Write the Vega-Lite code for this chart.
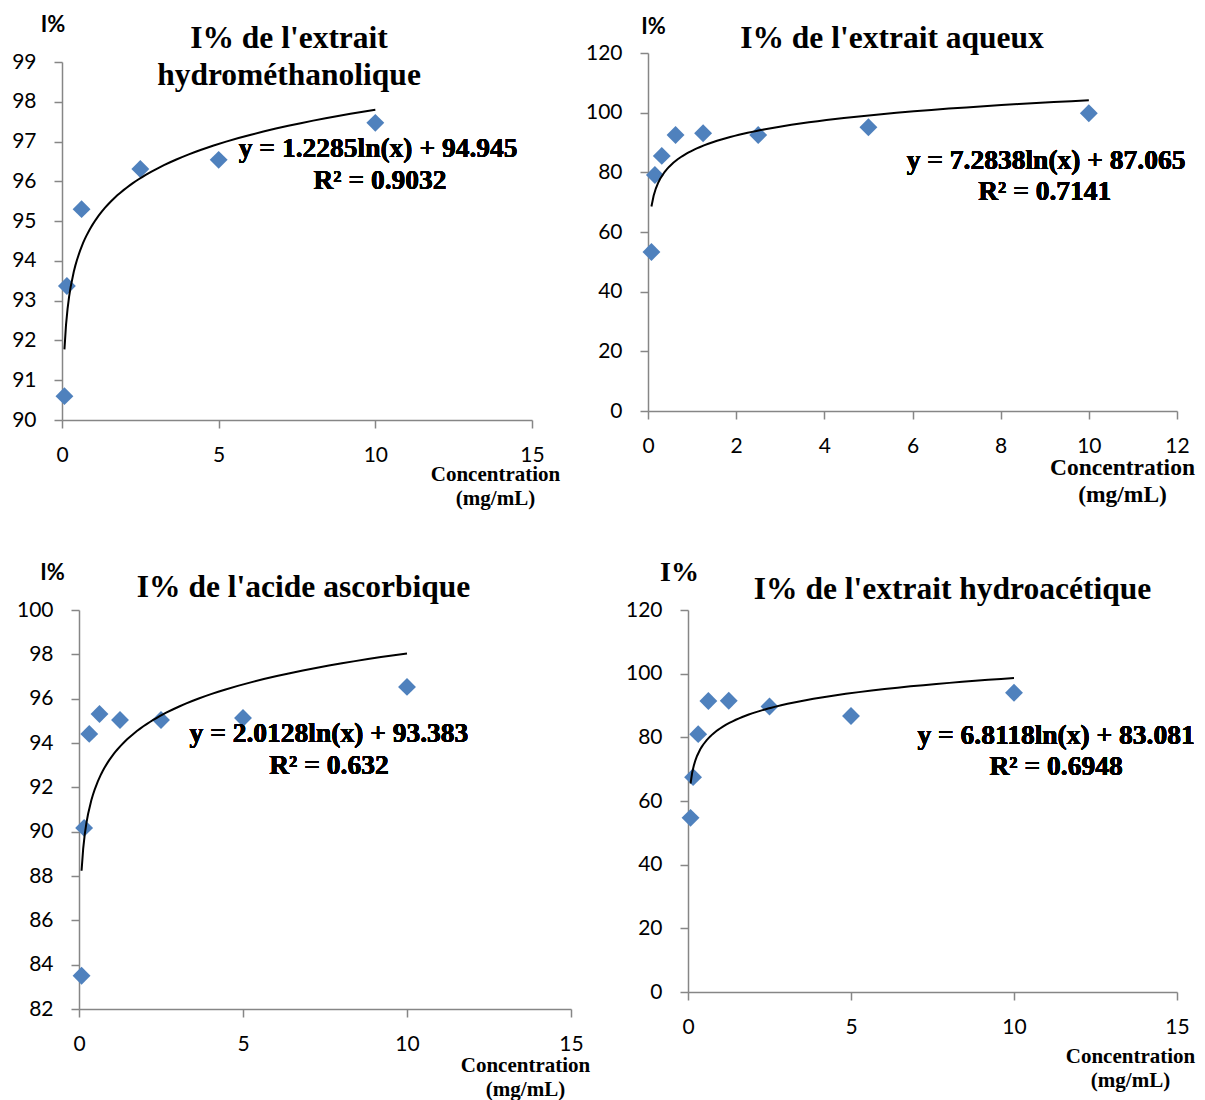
{
  "$schema": "https://vega.github.io/schema/vega-lite/v6.json",
  "background": "white",
  "padding": {"left": 11, "top": 13, "right": 5, "bottom": 5},
  "columns": 2,
  "bounds": "flush",
  "spacing": {"row": 190, "column": 77},
  "config": {
    "view": {"stroke": null},
    "axis": {"domainColor": "#868686", "tickColor": "#868686", "domainWidth": 1.5, "tickWidth": 1.5, "tickSize": 8, "grid": false, "labelFont": "Lato", "labelFontSize": 21, "labelColor": "black", "labelFlush": false, "labelOverlap": false, "labelPadding": 16, "titleColor": "black"},
    "axisY": {"labelPadding": 18},
    "title": {"font": "Liberation Serif", "fontSize": 31.5, "fontWeight": "bold", "color": "black", "frame": "group", "anchor": "middle", "lineHeight": 37, "offset": 0},
    "text": {"font": "Liberation Serif", "fontSize": 27.5, "fontWeight": "bold", "color": "black", "align": "center", "baseline": "middle"},
    "point": {"shape": "diamond", "filled": true, "size": 320, "color": "#4F81BD", "opacity": 1}
  },
  "concat": [
    {
      "width": 470, "height": 367,
      "title": {"text": ["I% de l'extrait", "hydrométhanolique"], "dx": -8, "dy": 82},
      "data": {"values": [
        {"x": 0.078, "y": 90.6}, {"x": 0.156, "y": 93.37}, {"x": 0.625, "y": 95.3},
        {"x": 2.5, "y": 96.31}, {"x": 5, "y": 96.54}, {"x": 10, "y": 97.47}
      ]},
      "encoding": {
        "x": {"field": "x", "type": "quantitative", "scale": {"domain": [0, 15], "nice": false},
          "axis": {"values": [0, 5, 10, 15], "title": ["Concentration", "(mg/mL)"], "titleX": 433, "titleY": 43, "titleAlign": "center", "titleBaseline": "top", "titleFont": "Liberation Serif", "titleFontWeight": "bold", "titleFontSize": 21, "titleLineHeight": 24}},
        "y": {"field": "y", "type": "quantitative", "scale": {"domain": [90, 99], "nice": false, "zero": false, "range": [367, 9]},
          "axis": {"values": [90, 91, 92, 93, 94, 95, 96, 97, 98, 99], "title": "I%", "titleAngle": 0, "titleX": -9.5, "titleY": -28.5, "titleAlign": "center", "titleBaseline": "middle", "titleFont": "Lato", "titleFontWeight": "bold", "titleFontSize": 22}}
      },
      "layer": [
        {"mark": "point"},
        {"transform": [{"regression": "y", "on": "x", "method": "log", "extent": [0.078, 10]}], "mark": {"type": "line", "color": "black", "strokeWidth": 2}},
        {"mark": "text", "encoding": {"x": {"datum": 10.09}, "y": {"datum": 96.81}, "text": {"value": "y = 1.2285ln(x) + 94.945"}}},
        {"mark": "text", "encoding": {"x": {"datum": 10.15}, "y": {"datum": 96.01}, "text": {"value": "R² = 0.9032"}}}
      ]
    },
    {
      "width": 529, "height": 358,
      "title": {"text": "I% de l'extrait aqueux", "dx": -20.5, "dy": 43},
      "data": {"values": [
        {"x": 0.078, "y": 53.3}, {"x": 0.156, "y": 79.1}, {"x": 0.3125, "y": 85.5}, {"x": 0.625, "y": 92.5},
        {"x": 1.25, "y": 93.1}, {"x": 2.5, "y": 92.5}, {"x": 5, "y": 95.1}, {"x": 10, "y": 99.8}
      ]},
      "encoding": {
        "x": {"field": "x", "type": "quantitative", "scale": {"domain": [0, 12], "nice": false},
          "axis": {"values": [0, 2, 4, 6, 8, 10, 12], "title": ["Concentration", "(mg/mL)"], "titleX": 474, "titleY": 44, "titleAlign": "center", "titleBaseline": "top", "titleFont": "Liberation Serif", "titleFontWeight": "bold", "titleFontSize": 23.5, "titleLineHeight": 27}},
        "y": {"field": "y", "type": "quantitative", "scale": {"domain": [0, 120], "nice": false},
          "axis": {"values": [0, 20, 40, 60, 80, 100, 120], "title": "I%", "titleAngle": 0, "titleX": 5, "titleY": -27, "titleAlign": "center", "titleBaseline": "middle", "titleFont": "Lato", "titleFontWeight": "bold", "titleFontSize": 22}}
      },
      "layer": [
        {"mark": "point"},
        {"transform": [{"regression": "y", "on": "x", "method": "log", "extent": [0.078, 10]}], "mark": {"type": "line", "color": "black", "strokeWidth": 2}},
        {"mark": "text", "encoding": {"x": {"datum": 9.03}, "y": {"datum": 83.8}, "text": {"value": "y = 7.2838ln(x) + 87.065"}}},
        {"mark": "text", "encoding": {"x": {"datum": 9.0}, "y": {"datum": 73.4}, "text": {"value": "R² = 0.7141"}}}
      ]
    },
    {
      "width": 509, "height": 399,
      "title": {"text": "I% de l'acide ascorbique", "dx": -13, "dy": 46},
      "data": {"values": [
        {"x": 0.078, "y": 83.5}, {"x": 0.156, "y": 90.17}, {"x": 0.3125, "y": 94.41}, {"x": 0.625, "y": 95.31},
        {"x": 1.25, "y": 95.04}, {"x": 2.5, "y": 95.04}, {"x": 5, "y": 95.13}, {"x": 10, "y": 96.53}
      ]},
      "encoding": {
        "x": {"field": "x", "type": "quantitative", "scale": {"domain": [0, 15], "nice": false, "range": [17, 509]},
          "axis": {"values": [0, 5, 10, 15], "title": ["Concentration", "(mg/mL)"], "titleX": 463, "titleY": 45, "titleAlign": "center", "titleBaseline": "top", "titleFont": "Liberation Serif", "titleFontWeight": "bold", "titleFontSize": 21, "titleLineHeight": 24}},
        "y": {"field": "y", "type": "quantitative", "scale": {"domain": [82, 100], "nice": false, "zero": false},
          "axis": {"offset": -17, "values": [82, 84, 86, 88, 90, 92, 94, 96, 98, 100], "title": "I%", "titleAngle": 0, "titleX": -27, "titleY": -38, "titleAlign": "center", "titleBaseline": "middle", "titleFont": "Lato", "titleFontWeight": "bold", "titleFontSize": 22}}
      },
      "layer": [
        {"mark": "point"},
        {"transform": [{"regression": "y", "on": "x", "method": "log", "extent": [0.078, 10]}], "mark": {"type": "line", "color": "black", "strokeWidth": 2}},
        {"mark": "text", "encoding": {"x": {"datum": 7.62}, "y": {"datum": 94.41}, "text": {"value": "y = 2.0128ln(x) + 93.383"}}},
        {"mark": "text", "encoding": {"x": {"datum": 7.62}, "y": {"datum": 92.96}, "text": {"value": "R² = 0.632"}}}
      ]
    },
    {
      "width": 529, "height": 382,
      "title": {"text": "I% de l'extrait hydroacétique", "dx": 40, "dy": 51},
      "data": {"values": [
        {"x": 0.078, "y": 54.7}, {"x": 0.156, "y": 67.5}, {"x": 0.3125, "y": 81.0}, {"x": 0.625, "y": 91.4},
        {"x": 1.25, "y": 91.5}, {"x": 2.5, "y": 89.7}, {"x": 5, "y": 86.7}, {"x": 10, "y": 94.0}
      ]},
      "encoding": {
        "x": {"field": "x", "type": "quantitative", "scale": {"domain": [0, 15], "nice": false, "range": [40, 529]},
          "axis": {"values": [0, 5, 10, 15], "title": ["Concentration", "(mg/mL)"], "titleX": 482, "titleY": 53, "titleAlign": "center", "titleBaseline": "top", "titleFont": "Liberation Serif", "titleFontWeight": "bold", "titleFontSize": 21, "titleLineHeight": 24}},
        "y": {"field": "y", "type": "quantitative", "scale": {"domain": [0, 120], "nice": false},
          "axis": {"offset": -40, "values": [0, 20, 40, 60, 80, 100, 120], "title": "I%", "titleAngle": 0, "titleX": -9, "titleY": -37.5, "titleAlign": "center", "titleBaseline": "middle", "titleFont": "Liberation Serif", "titleFontWeight": "bold", "titleFontSize": 28}}
      },
      "layer": [
        {"mark": "point"},
        {"transform": [{"regression": "y", "on": "x", "method": "log", "extent": [0.078, 10]}], "mark": {"type": "line", "color": "black", "strokeWidth": 2}},
        {"mark": "text", "encoding": {"x": {"datum": 11.29}, "y": {"datum": 80.42}, "text": {"value": "y = 6.8118ln(x) + 83.081"}}},
        {"mark": "text", "encoding": {"x": {"datum": 11.29}, "y": {"datum": 70.68}, "text": {"value": "R² = 0.6948"}}}
      ]
    }
  ]
}
